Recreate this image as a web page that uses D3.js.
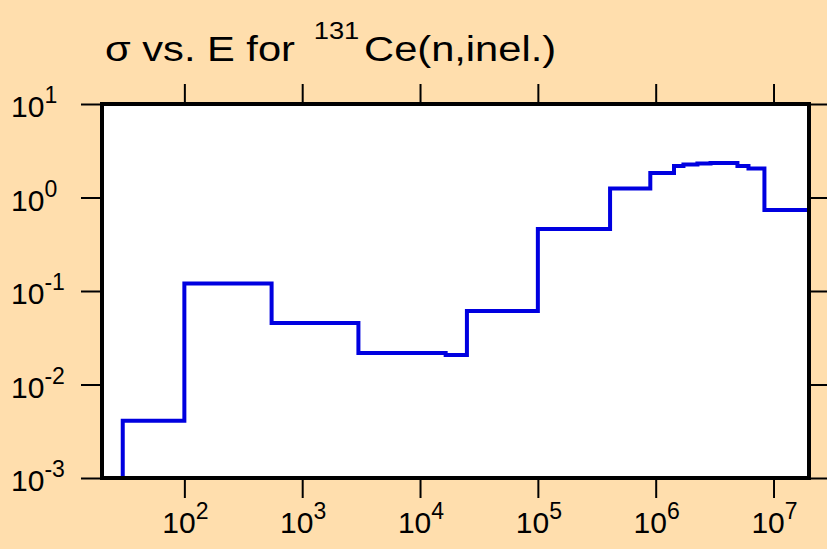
<!DOCTYPE html>
<html>
<head>
<meta charset="utf-8">
<script src="https://cdn.jsdelivr.net/npm/d3@7"></script>
<style>
  html, body { margin: 0; padding: 0; background: #FFDEAD; }
  svg { display: block; }
  text { font-family: "Liberation Sans", Arial, sans-serif; fill: #000; }
</style>
</head>
<body>
<svg id="chart" width="827" height="549"></svg>
<script>
// Group boundaries (eV) and the cross section (b) held over each group
const energyEdges = [30, 100, 550, 3000, 16500, 25000, 1.0e5, 4.1e5, 9.0e5,
                     1.43e6, 1.72e6, 2.26e6, 2.92e6, 4.94e6, 6.13e6, 8.37e6, 2.0e7];
const sigmaValues = [4.1e-3, 0.12, 0.0455, 0.0217, 0.0207, 0.061, 0.46, 1.25,
                     1.83, 2.17, 2.25, 2.31, 2.34, 2.17, 2.04, 0.734];
const xTickExps = [2, 3, 4, 5, 6, 7];
const yTickExps = [1, 0, -1, -2, -3];
const xDomain = [20, 2.0e7];
const yDomain = [1e-3, 10];

const svg = d3.select("#chart");
const plot = { left: 102, right: 809, top: 104, bottom: 478 };

const x = d3.scaleLog().domain(xDomain).range([plot.left, plot.right]);
const y = d3.scaleLog().domain(yDomain).range([plot.bottom, plot.top]);

// White plotting area
svg.append("rect")
  .attr("x", plot.left).attr("y", plot.top)
  .attr("width", plot.right - plot.left).attr("height", plot.bottom - plot.top)
  .attr("fill", "#fff");

svg.append("clipPath").attr("id", "clip")
  .append("rect")
  .attr("x", plot.left).attr("y", plot.top)
  .attr("width", plot.right - plot.left).attr("height", plot.bottom - plot.top);

// Histogram outline built from the group edges
const pts = [[energyEdges[0], yDomain[0]]];
sigmaValues.forEach((s, i) => {
  pts.push([energyEdges[i], s]);
  pts.push([energyEdges[i + 1], s]);
});
pts.push([energyEdges[energyEdges.length - 1], yDomain[0]]);

const line = d3.line().x(d => x(d[0])).y(d => y(d[1]));
svg.append("path")
  .attr("clip-path", "url(#clip)")
  .attr("d", line(pts))
  .attr("fill", "none")
  .attr("stroke", "#0000E0")
  .attr("stroke-width", 4)
  .attr("stroke-linejoin", "miter");

// Major ticks on all four sides, pointing outward
const xVals = xTickExps.map(e => Math.pow(10, e));
const yVals = yTickExps.map(e => Math.pow(10, e));
function styleAxis(g) {
  g.select(".domain").remove();
  g.selectAll(".tick line").attr("stroke", "#000").attr("stroke-width", 2);
  g.selectAll(".tick text").remove();
}
svg.append("g").attr("transform", `translate(0,${plot.bottom + 2})`)
  .call(d3.axisBottom(x).tickValues(xVals).tickSize(18).tickFormat("")).call(styleAxis);
svg.append("g").attr("transform", `translate(0,${plot.top - 2})`)
  .call(d3.axisTop(x).tickValues(xVals).tickSize(18).tickFormat("")).call(styleAxis);
svg.append("g").attr("transform", `translate(${plot.left - 2},0)`)
  .call(d3.axisLeft(y).tickValues(yVals).tickSize(19).tickFormat("")).call(styleAxis);
svg.append("g").attr("transform", `translate(${plot.right + 1},0)`)
  .call(d3.axisRight(y).tickValues(yVals).tickSize(18).tickFormat("")).call(styleAxis);

// Frame
svg.append("rect")
  .attr("x", plot.left).attr("y", plot.top)
  .attr("width", plot.right - plot.left).attr("height", plot.bottom - plot.top)
  .attr("fill", "none").attr("stroke", "#000").attr("stroke-width", 4);

// Power-of-ten tick labels
function powLabel(sel, exp) {
  sel.append("tspan").text("10");
  sel.append("tspan").attr("dy", -14).attr("font-size", 23).text(String(exp));
}
xTickExps.forEach(e => {
  svg.append("text")
    .attr("x", x(Math.pow(10, e)) + 1).attr("y", 533)
    .attr("text-anchor", "middle").attr("font-size", 30)
    .call(powLabel, e);
});
yTickExps.forEach(e => {
  svg.append("text")
    .attr("x", 11).attr("y", y(Math.pow(10, e)) + 13)
    .attr("text-anchor", "start").attr("font-size", 30)
    .call(powLabel, e);
});

// Title, drawn slightly wide
const title = svg.append("text")
  .attr("transform", "translate(105,61) scale(1.19,1)")
  .attr("font-size", 35);
title.append("tspan").text("σ vs. E for ");
title.append("tspan").attr("dx", 6).attr("dy", -22).attr("font-size", 23).text("131");
title.append("tspan").attr("dx", 4).attr("dy", 22).text("Ce(n,inel.)");
</script>
</body>
</html>
